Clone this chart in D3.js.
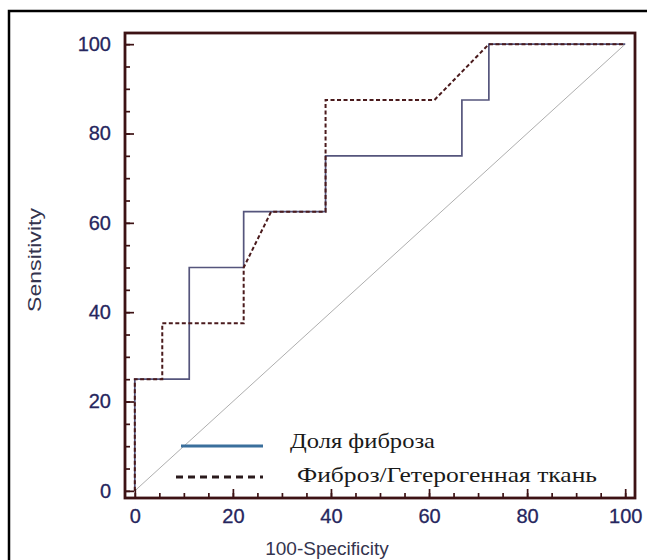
<!DOCTYPE html>
<html>
<head>
<meta charset="utf-8">
<script src="https://cdn.jsdelivr.net/npm/d3@7"></script>
<style>
 body { margin:0; background:#fff; overflow:hidden; }
 svg { display:block; }
</style>
</head>
<body>
<div class="roc"></div>
<script>
// ROC curves, values
var solidName = "Доля фиброза";
var solidX = [0, 0, 11.1, 11.1, 22.2, 22.2, 38.9, 38.9, 66.7, 66.7, 72.2, 72.2, 100];
var solidY = [0, 25, 25, 50, 50, 62.5, 62.5, 75, 75, 87.5, 87.5, 100, 100];

var dashName = "Фиброз/Гетерогенная ткань";
var dashX = [0, 0, 5.6, 5.6, 22.2, 22.2, 27.8, 38.9, 38.9, 61.1, 72.2, 100];
var dashY = [0, 25, 25, 37.5, 37.5, 50, 62.5, 62.5, 87.5, 87.5, 100, 100];

var refX = [0, 100];
var refY = [0, 100];

var majorTicks = [0, 20, 40, 60, 80, 100];
var minorTicks = d3.range(0, 101, 5);

var w = 647;
var h = 560;
var frameColor = "#3d1214";
var labelColor = "#26265e";
var sans = "Liberation Sans, Arial, sans-serif";
var serif = "Liberation Serif, Times New Roman, serif";

var svg = d3.select(".roc").append("svg").attr("width", w).attr("height", h);

// outer border: only left and top edges show in the picture
svg.append("path")
  .attr("d", "M9,560 V11 H647")
  .attr("fill", "none").attr("stroke", "#000").attr("stroke-width", 2.5);

var x = d3.scaleLinear().domain([-2, 102]).range([125, 635]);
var y = d3.scaleLinear().domain([-1.6, 102.5]).range([498, 33]);

function pts(xs, ys) {
  return xs.map(function(v, i) { return [x(v), y(ys[i])]; });
}
var line = d3.line();

// diagonal
svg.append("path")
  .attr("d", line(pts(refX, refY)))
  .attr("fill", "none").attr("stroke", "#a5a5a5").attr("stroke-width", 0.9);

// solid curve
svg.append("path")
  .attr("d", line(pts(solidX, solidY)))
  .attr("fill", "none").attr("stroke", "#55557c").attr("stroke-width", 1.7);

// dashed curve
svg.append("path")
  .attr("d", line(pts(dashX, dashY)))
  .attr("fill", "none").attr("stroke", "#4a1a1c").attr("stroke-width", 2)
  .attr("stroke-dasharray", "4,2.5");

// frame
svg.append("rect")
  .attr("x", 125).attr("y", 33)
  .attr("width", 510).attr("height", 465)
  .attr("fill", "none").attr("stroke", frameColor).attr("stroke-width", 2.8);

// axes: ticks point inward
function styleAxis(g) {
  g.select(".domain").remove();
  g.selectAll(".tick line").attr("stroke", frameColor).attr("stroke-width", 1.7);
  g.selectAll(".tick text")
    .attr("fill", labelColor)
    .attr("stroke", labelColor).attr("stroke-width", 0.3)
    .style("font-family", sans)
    .style("font-size", "20px");
}

svg.append("g").attr("transform", "translate(125,0)")
  .call(d3.axisLeft(y).tickValues(minorTicks).tickSize(-5).tickFormat(""))
  .call(styleAxis);
svg.append("g").attr("transform", "translate(125,0)")
  .call(d3.axisLeft(y).tickValues(majorTicks).tickSize(-9).tickPadding(14))
  .call(styleAxis);

svg.append("g").attr("transform", "translate(0,498)")
  .call(d3.axisBottom(x).tickValues(minorTicks).tickSize(-5).tickFormat(""))
  .call(styleAxis);
svg.append("g").attr("transform", "translate(0,498)")
  .call(d3.axisBottom(x).tickValues(majorTicks).tickSize(-9).tickPadding(11))
  .call(styleAxis);

// axis titles
svg.append("text")
  .attr("transform", "translate(41,260) rotate(-90)")
  .attr("text-anchor", "middle")
  .attr("fill", "#34344e")
  .attr("textLength", 104).attr("lengthAdjust", "spacingAndGlyphs")
  .style("font-family", sans)
  .style("font-size", "19px")
  .text("Sensitivity");

svg.append("text")
  .attr("x", 327).attr("y", 555)
  .attr("text-anchor", "middle")
  .attr("fill", "#34344e")
  .style("font-family", sans)
  .style("font-size", "19px")
  .text("100-Specificity");

// legend
var legend = svg.append("g");
legend.append("line")
  .attr("x1", 181).attr("x2", 263).attr("y1", 446).attr("y2", 446)
  .attr("stroke", "#3a6f9c").attr("stroke-width", 3);
legend.append("text")
  .attr("x", 290).attr("y", 448)
  .attr("fill", "#1a1a1a")
  .attr("textLength", 145).attr("lengthAdjust", "spacingAndGlyphs")
  .style("font-family", serif)
  .style("font-size", "22px")
  .text(solidName);
legend.append("line")
  .attr("x1", 176).attr("x2", 263).attr("y1", 477).attr("y2", 477)
  .attr("stroke", "#2a1a1c").attr("stroke-width", 3)
  .attr("stroke-dasharray", "7,5");
legend.append("text")
  .attr("x", 297).attr("y", 482)
  .attr("fill", "#1a1a1a")
  .attr("textLength", 300).attr("lengthAdjust", "spacingAndGlyphs")
  .style("font-family", serif)
  .style("font-size", "22px")
  .text(dashName);
</script>
</body>
</html>
